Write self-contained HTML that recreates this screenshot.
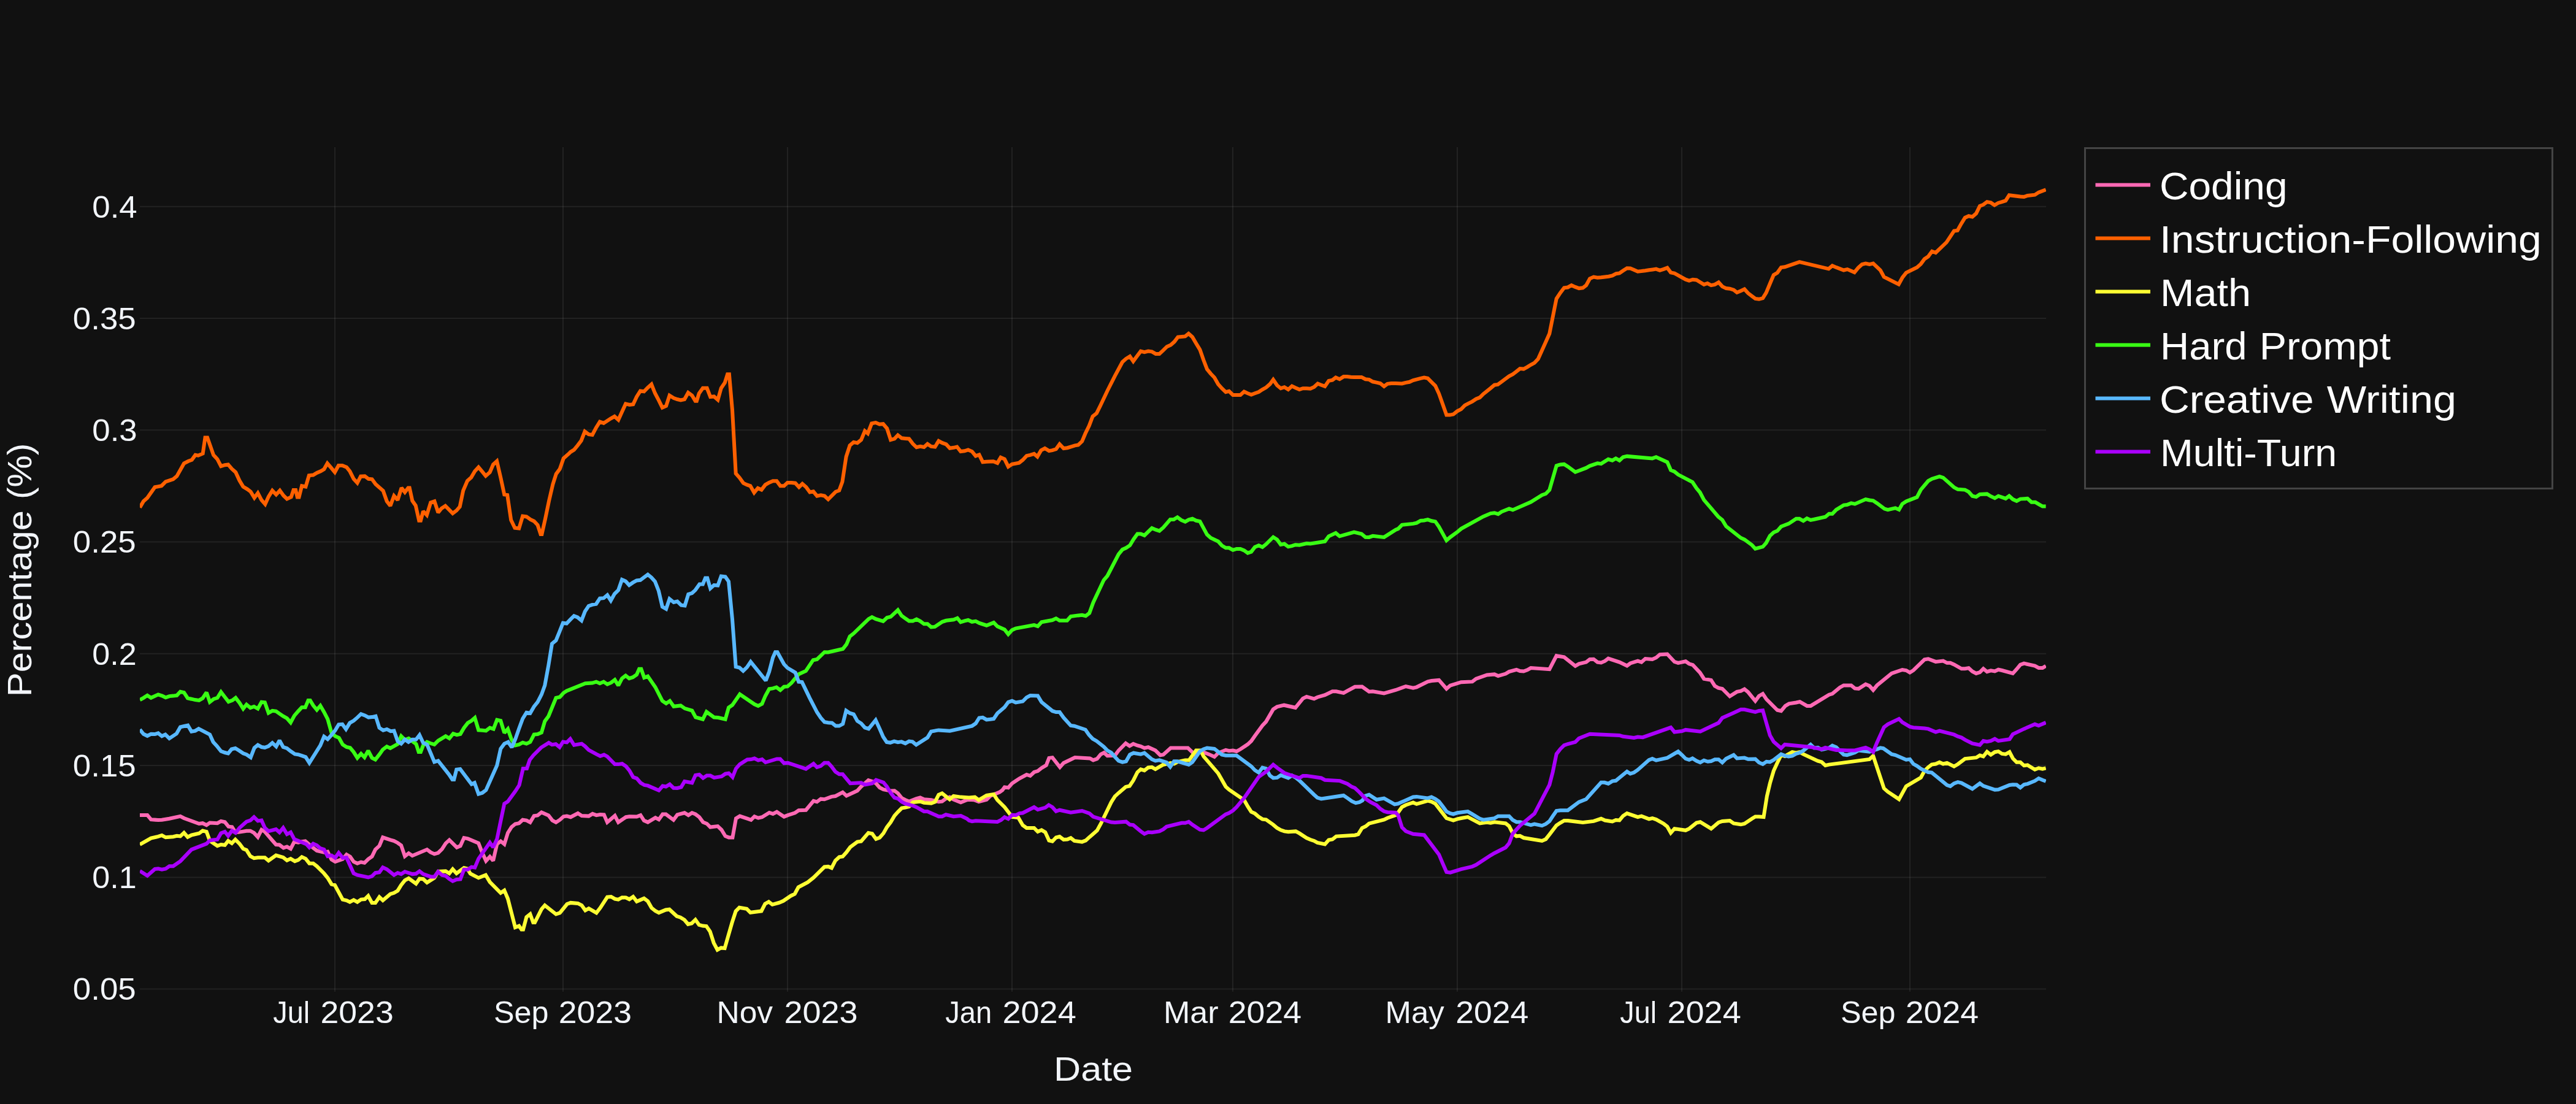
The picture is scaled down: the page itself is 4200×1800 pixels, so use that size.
<!DOCTYPE html>
<html><head><meta charset="utf-8"><title>Category share over time</title>
<style>
html,body{margin:0;padding:0;background:#111111;}
body{width:4200px;height:1800px;overflow:hidden;position:relative;font-family:"Liberation Sans",sans-serif;}
</style></head><body>
<svg width="4200" height="1800" viewBox="0 0 4200 1800" style="position:absolute;left:0;top:0">
<rect x="0" y="0" width="4200" height="1800" fill="#111111"/>
<path d="M546.0,240V1616.7M918.0,240V1616.7M1284.0,240V1616.7M1650.0,240V1616.7M2010.0,240V1616.7M2376.0,240V1616.7M2742.0,240V1616.7M3114.0,240V1616.7" fill="none" stroke="#ffffff" stroke-opacity="0.075" stroke-width="2"/>
<path d="M228,1612.6H3336M228,1430.4H3336M228,1248.1H3336M228,1065.8H3336M228,883.6H3336M228,701.3H3336M228,519.1H3336M228,336.8H3336" fill="none" stroke="#ffffff" stroke-opacity="0.075" stroke-width="2"/>
<clipPath id="c"><rect x="228" y="240" width="3108" height="1376.7"/></clipPath>
<g clip-path="url(#c)" fill="none" stroke-width="6" stroke-linejoin="miter" stroke-miterlimit="2" stroke-linecap="butt">
<path d="M228.0,1328.9L240.2,1328.9L246.2,1336.2L257.9,1337.0L263.9,1336.7L276.1,1334.8L294.0,1330.8L300.0,1334.0L324.5,1343.0L330.4,1342.2L336.7,1345.2L342.1,1341.6L354.4,1342.2L360.3,1338.9L366.6,1340.3L372.6,1347.6L378.3,1348.4L384.2,1357.4L390.5,1356.6L401.9,1354.7L408.2,1354.7L414.1,1357.9L420.4,1364.7L426.4,1353.0L431.8,1356.0L444.0,1370.2L450.0,1377.0L455.7,1377.5L462.2,1382.4L467.9,1380.5L473.9,1383.8L479.9,1372.3L486.2,1373.7L492.1,1372.3L497.8,1371.5L510.6,1382.4L516.6,1387.0L528.3,1389.7L534.2,1388.6L540.5,1401.4L546.5,1404.9L558.7,1400.6L565.0,1393.3L570.9,1396.8L576.6,1404.9L582.6,1407.7L588.6,1405.5L594.3,1406.8L600.3,1400.9L606.5,1396.5L612.0,1385.1L618.5,1379.1L624.2,1365.3L636.4,1369.3L642.4,1371.0L648.4,1374.2L654.1,1378.3L660.1,1396.0L666.3,1391.1L672.3,1395.2L696.2,1385.1L702.2,1389.7L708.2,1392.4L714.4,1390.5L720.7,1384.3L726.6,1375.1L732.6,1369.6L744.8,1381.6L750.6,1379.1L756.5,1366.1L762.8,1367.4L780.2,1374.8L786.4,1390.5L792.4,1403.6L798.7,1396.8L804.1,1403.3L810.3,1376.1L816.3,1371.5L822.3,1376.4L828.0,1357.9L834.0,1348.4L840.0,1343.5L846.2,1342.2L852.2,1336.7L858.4,1337.6L864.4,1340.8L870.7,1330.2L876.6,1329.4L882.9,1324.5L894.3,1329.4L900.6,1337.6L906.5,1340.8L912.8,1336.7L918.8,1331.3L924.2,1330.6L930.4,1332.2L942.2,1326.0L948.4,1330.0L959.9,1330.6L966.1,1326.9L972.4,1329.1L978.6,1328.1L984.8,1328.4L990.1,1340.6L1002.5,1330.0L1008.1,1340.6L1020.5,1332.2L1026.1,1331.2L1038.2,1331.6L1044.4,1329.1L1050.0,1337.8L1056.2,1340.6L1068.6,1333.1L1074.2,1336.2L1080.4,1327.5L1085.7,1327.5L1098.1,1336.8L1104.3,1328.4L1116.1,1325.3L1122.4,1329.1L1128.3,1325.3L1133.9,1327.5L1140.1,1332.2L1146.3,1340.6L1152.5,1343.0L1158.1,1348.6L1170.2,1347.1L1176.4,1353.0L1182.6,1363.2L1188.2,1365.4L1194.4,1365.4L1200.0,1334.3L1206.2,1330.6L1218.3,1334.7L1224.5,1336.8L1230.1,1331.2L1236.3,1333.7L1242.5,1332.2L1254.3,1325.0L1260.2,1326.9L1266.5,1323.8L1278.3,1331.6L1284.5,1329.1L1296.3,1325.3L1302.2,1321.3L1314.0,1320.7L1326.4,1305.8L1332.0,1307.3L1338.2,1302.7L1344.1,1303.3L1355.9,1298.9L1362.1,1298.0L1373.9,1291.8L1380.1,1297.4L1397.8,1289.3L1404.0,1282.5L1415.8,1272.2L1422.0,1274.1L1428.3,1277.2L1434.2,1284.0L1440.4,1287.1L1452.2,1289.6L1458.4,1289.3L1464.0,1293.4L1470.2,1301.1L1476.1,1304.2L1482.3,1306.7L1494.1,1302.0L1500.3,1300.5L1506.5,1303.3L1518.3,1304.2L1530.4,1307.3L1536.0,1306.7L1542.2,1302.0L1548.4,1299.6L1554.7,1303.6L1566.5,1308.3L1576.4,1304.2L1580.0,1303.8L1588.2,1304.3L1595.8,1307.1L1608.5,1303.8L1614.5,1297.8L1629.7,1291.6L1634.3,1288.3L1637.9,1283.4L1643.9,1284.2L1650.1,1277.2L1662.1,1269.3L1673.8,1263.0L1679.7,1264.9L1686.0,1259.0L1692.0,1257.1L1698.2,1252.2L1705.8,1247.6L1710.4,1235.9L1715.9,1235.1L1728.1,1250.8L1734.1,1244.0L1752.6,1235.1L1777.0,1236.4L1782.4,1239.4L1788.7,1237.2L1794.7,1229.9L1800.1,1227.2L1805.5,1232.3L1817.8,1231.8L1823.8,1223.6L1835.4,1212.0L1841.7,1216.3L1847.7,1212.8L1854.5,1215.5L1859.9,1216.8L1865.9,1219.6L1872.1,1218.2L1883.8,1223.6L1891.7,1231.2L1896.6,1230.4L1908.8,1219.6L1936.8,1219.6L1948.2,1230.4L1956.4,1225.8L1960.4,1225.8L1971.3,1229.9L1980.0,1234.0L1986.2,1227.7L1998.5,1222.8L2003.9,1224.2L2010.2,1223.6L2016.1,1225.0L2022.4,1221.5L2034.3,1213.6L2040.1,1208.2L2046.0,1199.7L2058.3,1182.9L2064.2,1176.6L2075.9,1156.5L2082.2,1152.4L2093.6,1149.7L2112.1,1153.8L2124.3,1138.9L2130.3,1135.9L2142.5,1139.4L2147.9,1136.7L2160.2,1133.2L2172.4,1127.2L2178.6,1127.2L2190.6,1129.9L2196.8,1126.4L2209.1,1119.8L2220.8,1119.6L2232.2,1127.7L2238.2,1127.2L2256.6,1130.4L2275.7,1125.0L2292.1,1119.0L2304.0,1121.7L2309.7,1120.3L2327.9,1111.4L2333.9,1110.0L2346.1,1108.9L2358.4,1123.0L2364.6,1117.6L2382.3,1112.2L2400.5,1111.4L2406.7,1106.7L2424.4,1100.5L2436.6,1099.4L2442.6,1102.1L2454.8,1098.6L2460.5,1095.1L2472.5,1091.8L2478.2,1094.0L2484.2,1094.5L2490.2,1092.3L2495.9,1089.1L2526.3,1091.2L2537.7,1069.2L2550.2,1071.4L2568.4,1085.8L2574.4,1082.3L2586.1,1079.6L2592.1,1074.9L2598.3,1074.7L2604.6,1079.6L2610.5,1080.4L2616.8,1077.7L2622.2,1073.6L2640.4,1079.6L2652.7,1085.5L2658.1,1081.5L2670.3,1077.7L2676.3,1079.6L2682.6,1074.1L2694.0,1074.9L2700.2,1072.2L2706.2,1067.3L2718.4,1066.5L2730.1,1079.0L2736.1,1080.9L2748.3,1078.2L2754.0,1082.3L2760.0,1084.2L2771.7,1096.7L2778.2,1106.7L2789.9,1108.9L2795.9,1118.4L2801.6,1121.7L2808.1,1123.0L2820.3,1135.3L2832.0,1127.9L2838.3,1126.6L2844.2,1123.6L2850.2,1128.5L2861.9,1142.9L2867.9,1134.7L2874.1,1131.2L2880.1,1140.2L2897.8,1157.8L2904.0,1159.2L2910.9,1150.9L2916.8,1147.4L2928.5,1145.5L2934.5,1144.1L2946.2,1150.9L2952.2,1150.9L2982.1,1132.7L2987.5,1131.1L2999.7,1121.0L3006.0,1117.5L3018.2,1117.5L3024.2,1122.4L3030.4,1122.9L3041.8,1115.6L3048.1,1118.3L3054.1,1125.1L3060.3,1117.5L3084.2,1097.9L3101.6,1092.0L3107.9,1093.0L3113.9,1096.6L3119.6,1093.0L3137.8,1075.4L3143.8,1074.3L3156.0,1078.9L3168.2,1077.6L3174.5,1080.8L3179.9,1080.8L3185.9,1083.5L3198.1,1090.3L3203.8,1090.3L3209.8,1089.2L3215.8,1094.7L3222.0,1097.9L3228.0,1096.0L3233.7,1090.3L3239.7,1095.2L3245.9,1093.3L3252.4,1094.4L3258.2,1091.7L3264.1,1093.0L3281.8,1097.9L3288.0,1091.1L3294.0,1083.8L3300.0,1081.6L3317.7,1085.7L3323.9,1089.0L3330.2,1089.0L3335.6,1085.7" stroke="#FF69B4"/>
<path d="M228.0,827.5L234.0,817.2L240.2,811.7L252.5,794.3L263.3,792.2L270.1,785.4L282.3,781.3L288.3,776.4L300.0,755.5L306.8,752.0L312.8,749.8L318.5,741.9L323.1,742.7L330.7,739.5L334.5,713.4L338.1,713.4L342.7,726.4L348.1,741.9L354.4,748.7L360.3,760.1L366.6,758.2L372.0,757.4L378.0,764.5L384.2,769.9L390.5,783.5L396.5,793.5L403.3,797.6L408.7,801.7L414.7,811.7L420.4,803.9L426.4,815.3L432.3,822.1L437.8,809.8L444.0,799.8L450.3,806.3L456.3,799.8L462.2,807.9L467.9,813.4L474.7,810.4L478.5,799.0L482.1,799.0L484.8,810.4L487.5,810.4L492.1,792.2L498.4,793.5L503.8,775.3L510.6,774.5L516.6,771.0L522.8,768.3L528.3,765.0L533.7,755.5L540.0,762.8L545.9,769.9L551.9,759.0L558.2,759.0L565.0,761.7L570.4,768.3L576.6,780.8L582.6,787.3L588.1,776.7L594.8,776.4L600.8,780.8L606.5,781.3L612.5,789.5L619.3,795.4L624.7,800.3L630.7,817.2L636.4,824.8L642.4,808.5L648.4,815.3L654.6,795.4L660.1,802.5L665.5,795.4L667.7,795.4L672.3,816.6L677.7,824.2L683.2,848.7L685.9,848.7L690.0,833.5L695.9,839.7L702.2,819.3L708.4,817.2L714.4,835.7L719.8,828.9L726.1,824.8L732.1,830.8L738.1,837.0L744.3,832.4L749.7,826.1L755.2,799.8L762.0,784.0L768.2,778.6L774.2,768.3L780.2,761.7L786.4,769.1L791.9,775.9L798.7,769.9L804.1,757.4L810.1,752.0L816.3,778.6L822.3,806.3L827.2,807.1L833.2,847.9L839.4,860.7L846.2,861.5L852.2,841.6L858.4,842.4L865.2,847.1L870.7,849.8L876.6,856.0L881.5,871.0L883.4,871.0L888.9,846.5L895.1,816.6L901.4,789.5L906.8,772.6L912.8,764.5L918.8,747.3L928.0,739.2L929.9,737.2L935.9,733.4L942.1,725.8L947.8,718.2L953.5,703.5L959.8,708.1L965.8,708.9L972.0,697.2L978.0,687.7L984.2,689.9L995.9,682.3L1001.9,679.0L1008.2,684.5L1014.1,671.4L1020.1,658.4L1026.4,660.0L1032.3,659.2L1038.0,647.0L1044.0,637.4L1050.0,638.3L1056.2,632.0L1062.2,626.6L1067.9,641.0L1073.9,652.4L1079.9,664.6L1086.1,661.9L1091.6,644.8L1098.4,649.1L1104.3,651.0L1109.8,652.4L1116.0,651.0L1122.0,640.2L1128.3,644.8L1133.7,653.8L1135.9,653.8L1139.7,641.5L1145.9,632.8L1152.7,632.8L1158.2,647.0L1164.1,646.4L1170.4,651.8L1175.8,632.8L1181.8,623.9L1186.1,610.3L1188.9,610.3L1194.0,668.7L1199.7,772.0L1205.7,778.8L1212.0,787.7L1217.9,790.4L1223.4,792.3L1229.6,803.2L1235.6,795.9L1241.6,798.6L1247.8,790.4L1253.8,786.9L1260.1,784.2L1266.3,784.2L1272.3,792.3L1278.3,792.3L1284.0,786.9L1290.5,786.9L1296.7,787.7L1302.7,794.2L1308.2,788.8L1314.4,794.2L1320.4,802.4L1326.1,801.3L1332.1,808.6L1338.3,807.3L1344.3,808.6L1350.3,814.1L1356.5,807.8L1362.5,801.8L1368.2,799.7L1373.4,785.5L1379.6,744.8L1385.6,726.3L1391.8,720.9L1397.8,722.2L1404.1,717.1L1410.1,702.7L1414.9,706.7L1421.2,690.4L1427.7,689.1L1434.0,691.8L1439.9,691.2L1446.2,698.6L1452.2,717.1L1458.4,715.4L1463.9,709.5L1470.1,714.3L1476.1,714.9L1482.1,715.4L1488.3,723.6L1494.3,729.3L1500.5,727.9L1506.5,729.0L1512.2,723.9L1518.2,727.9L1524.5,728.5L1530.4,719.0L1536.4,722.2L1542.7,724.4L1548.6,730.7L1554.9,729.8L1560.3,728.5L1566.3,736.1L1572.6,735.3L1578.5,733.4L1584.8,736.1L1590.8,743.4L1596.5,741.5L1602.3,753.3L1608.5,752.7L1619.4,752.2L1626.2,754.9L1631.6,745.9L1637.9,748.6L1643.9,760.9L1650.1,756.8L1661.5,754.6L1667.5,750.0L1673.8,743.2L1679.7,741.8L1686.0,739.9L1691.4,744.6L1697.4,734.2L1703.6,731.0L1710.4,735.1L1715.9,734.2L1721.8,732.3L1727.6,724.2L1734.1,731.0L1740.3,730.2L1746.3,728.3L1752.6,726.4L1758.0,725.5L1764.2,719.6L1769.7,706.5L1775.7,694.3L1781.6,678.8L1787.9,673.9L1793.9,661.7L1805.5,637.2L1817.8,612.8L1830.0,590.2L1836.0,584.8L1842.2,581.0L1847.7,589.1L1853.6,581.0L1859.9,572.6L1865.9,574.2L1872.1,572.6L1878.1,573.4L1884.3,576.9L1890.3,576.9L1896.6,571.2L1902.6,565.2L1908.8,562.5L1914.8,557.1L1920.5,549.5L1926.5,548.9L1932.4,548.4L1937.9,544.0L1944.1,549.5L1950.1,559.8L1956.4,570.1L1962.3,587.0L1968.0,601.9L1974.0,609.2L1980.0,615.5L1986.2,626.4L1992.2,633.2L1998.5,639.1L2003.9,637.8L2010.2,644.0L2016.1,644.0L2022.4,644.0L2028.4,638.6L2034.3,641.3L2040.1,643.5L2046.0,641.3L2052.3,639.1L2058.3,635.1L2064.2,631.8L2070.5,626.4L2075.9,619.0L2082.2,628.3L2088.2,633.2L2094.1,631.2L2100.4,635.1L2106.4,629.6L2112.1,632.3L2118.6,635.1L2124.3,633.2L2130.3,633.2L2136.5,633.7L2142.5,631.0L2148.5,625.5L2154.2,627.7L2160.2,629.9L2166.4,620.9L2172.4,619.6L2177.8,615.5L2184.1,618.2L2190.6,614.1L2196.3,614.1L2202.3,614.7L2208.3,614.9L2214.5,614.9L2219.9,614.9L2226.2,618.2L2232.2,618.8L2238.2,622.3L2244.4,623.6L2250.4,625.0L2256.6,629.9L2262.1,625.8L2268.3,625.0L2275.7,625.0L2285.8,625.5L2292.1,623.9L2298.0,622.8L2304.0,620.1L2316.2,616.8L2322.0,615.5L2327.9,616.8L2333.9,622.8L2340.2,629.1L2346.1,641.8L2352.4,659.5L2358.4,676.6L2363.8,676.6L2369.5,675.5L2376.0,670.4L2382.3,667.1L2388.3,660.9L2394.5,657.6L2400.5,654.6L2406.7,650.5L2412.7,648.1L2418.4,642.4L2430.4,632.9L2436.6,627.7L2442.1,626.9L2448.3,622.3L2454.3,617.9L2460.5,613.3L2466.5,610.1L2472.5,605.7L2478.2,601.1L2484.2,601.6L2490.2,598.4L2495.9,594.8L2501.8,591.6L2507.8,585.3L2514.1,571.2L2520.3,557.6L2526.3,544.0L2531.7,516.8L2537.7,487.0L2544.0,477.4L2550.2,469.3L2556.2,468.5L2562.2,465.2L2568.4,467.9L2574.4,470.1L2580.7,469.3L2586.1,465.2L2592.1,454.3L2598.3,451.6L2604.6,452.7L2610.5,452.2L2616.8,451.4L2622.8,450.8L2628.8,449.5L2635.0,446.2L2640.4,445.4L2646.4,441.3L2652.7,437.2L2658.1,437.5L2664.1,439.9L2670.3,442.7L2676.3,442.1L2682.6,441.3L2688.5,440.2L2694.8,439.4L2700.2,438.6L2706.2,440.8L2712.4,438.9L2718.4,436.7L2724.1,444.3L2730.1,445.7L2736.1,448.9L2742.3,452.4L2748.3,455.7L2754.0,457.6L2760.0,455.7L2766.0,456.5L2772.2,460.3L2778.2,463.9L2783.9,462.0L2789.9,465.2L2795.9,463.9L2802.1,460.3L2808.1,467.1L2814.3,470.1L2820.3,470.7L2826.6,472.6L2832.0,476.9L2838.3,474.2L2844.2,471.5L2850.2,478.0L2856.5,482.9L2861.9,487.0L2867.9,487.8L2874.1,486.1L2879.6,477.4L2885.8,462.5L2891.8,448.4L2897.8,444.8L2904.0,436.1L2910.0,435.3L2922.2,431.2L2933.9,427.2L2981.5,438.3L2987.5,433.2L2993.8,435.9L3006.0,440.5L3012.0,439.1L3023.6,444.0L3029.9,436.4L3035.9,431.0L3041.8,429.6L3048.1,431.0L3054.1,429.6L3065.8,440.5L3071.7,451.4L3095.7,463.6L3101.6,452.7L3107.9,444.6L3125.5,435.9L3131.8,430.4L3137.8,422.3L3143.8,418.2L3150.0,409.8L3156.0,412.0L3173.6,395.1L3179.9,385.6L3185.9,376.6L3191.6,375.8L3197.6,364.9L3203.8,354.9L3209.8,352.2L3215.8,353.5L3222.0,348.1L3228.0,335.9L3233.7,333.7L3239.7,329.1L3245.9,330.4L3251.9,334.5L3257.9,331.0L3264.1,329.1L3270.1,327.2L3275.8,318.2L3281.8,319.0L3294.0,320.4L3300.0,320.9L3305.7,319.0L3317.7,317.7L3323.9,313.6L3335.6,309.2" stroke="#FF6000"/>
<path d="M228.0,1377.0L246.2,1366.6L257.9,1363.9L263.9,1362.0L270.1,1365.3L282.3,1364.2L288.3,1362.8L294.0,1363.4L300.0,1357.9L306.0,1364.7L312.2,1361.5L324.5,1358.8L330.4,1354.4L336.7,1356.0L342.1,1370.7L354.4,1379.1L360.3,1377.0L366.6,1377.8L372.0,1371.0L378.0,1374.8L383.7,1368.8L390.5,1375.6L396.5,1383.8L401.9,1385.9L408.2,1396.0L414.1,1399.2L420.4,1398.2L431.8,1398.2L437.8,1403.3L450.0,1394.6L461.7,1397.9L467.9,1402.8L473.9,1400.1L480.7,1404.1L486.2,1402.2L492.1,1397.3L498.4,1400.1L504.4,1407.7L510.6,1407.7L516.6,1412.3L528.3,1424.0L534.2,1431.3L540.5,1441.6L545.9,1443.0L558.7,1466.6L565.0,1468.0L570.4,1470.7L576.6,1467.4L582.6,1470.7L588.6,1466.6L594.8,1466.1L600.3,1460.7L606.5,1472.1L612.0,1472.1L618.5,1462.6L624.2,1468.0L636.4,1457.7L642.4,1455.8L648.4,1452.2L654.1,1443.0L660.1,1435.4L666.3,1432.1L678.3,1440.8L684.0,1432.7L690.0,1433.2L696.2,1438.9L708.2,1431.3L714.4,1421.0L726.6,1420.4L732.6,1424.0L738.1,1417.2L744.3,1424.0L756.5,1415.0L762.0,1416.4L766.9,1424.5L780.2,1431.3L791.9,1426.7L798.7,1438.1L816.3,1455.8L822.3,1451.7L828.0,1465.3L840.0,1512.0L846.2,1509.6L850.3,1515.5L853.0,1515.5L858.4,1495.2L864.4,1490.5L869.3,1504.1L872.0,1504.1L882.9,1482.4L888.3,1476.1L906.5,1490.5L912.8,1488.4L924.5,1474.0L930.4,1471.9L942.2,1472.9L948.4,1476.0L954.3,1484.3L959.9,1481.2L972.4,1488.4L978.6,1480.3L990.1,1462.6L996.3,1462.0L1002.5,1465.7L1008.1,1466.6L1014.3,1463.2L1020.5,1463.5L1026.1,1466.3L1032.3,1462.0L1038.2,1469.8L1050.0,1464.8L1056.2,1469.4L1062.4,1480.3L1068.6,1485.3L1074.2,1488.1L1085.4,1483.5L1091.4,1482.7L1103.4,1493.8L1109.3,1495.7L1115.9,1499.8L1121.8,1506.8L1127.8,1505.4L1133.8,1499.6L1139.8,1507.9L1145.8,1509.6L1151.7,1510.1L1157.7,1518.8L1163.7,1537.3L1169.7,1548.7L1175.7,1545.4L1181.6,1546.0L1193.6,1504.1L1199.6,1485.7L1205.5,1479.7L1217.5,1481.8L1223.5,1487.8L1241.4,1485.4L1247.4,1473.7L1253.4,1470.4L1259.3,1474.8L1271.3,1471.5L1277.3,1468.8L1289.2,1460.7L1295.8,1457.4L1301.7,1446.5L1317.0,1438.4L1326.4,1430.9L1344.1,1413.5L1350.3,1412.9L1355.9,1415.1L1362.1,1403.0L1368.3,1397.4L1373.9,1396.5L1380.1,1389.6L1386.3,1381.2L1397.8,1372.5L1404.0,1371.6L1415.8,1358.0L1422.0,1359.2L1428.3,1367.9L1434.2,1365.7L1440.4,1358.6L1446.0,1348.6L1452.2,1340.6L1458.4,1330.0L1464.0,1323.8L1470.2,1317.6L1476.1,1316.6L1482.3,1315.1L1488.5,1308.0L1500.3,1306.7L1506.5,1308.9L1518.3,1309.8L1524.5,1307.3L1530.4,1295.8L1536.0,1293.4L1548.4,1303.3L1554.7,1298.0L1566.5,1299.6L1576.4,1300.2L1580.0,1300.5L1589.5,1299.7L1595.8,1304.3L1602.3,1300.5L1608.5,1297.0L1620.2,1295.1L1626.2,1304.3L1637.9,1316.0L1650.1,1331.8L1660.2,1332.9L1667.5,1345.4L1673.8,1350.0L1686.0,1350.0L1692.0,1356.0L1698.2,1353.3L1704.2,1356.8L1710.4,1370.4L1715.9,1371.7L1721.8,1365.5L1727.6,1364.1L1734.1,1369.0L1740.3,1368.5L1745.8,1366.3L1751.7,1370.9L1764.2,1372.6L1770.2,1370.4L1776.2,1364.9L1788.7,1354.1L1794.7,1343.2L1811.8,1307.9L1817.8,1298.4L1823.8,1292.9L1835.4,1282.9L1841.7,1281.5L1847.7,1272.6L1854.5,1259.0L1859.9,1254.3L1865.9,1256.2L1872.1,1251.4L1878.1,1250.8L1883.8,1254.1L1896.6,1246.7L1908.8,1244.0L1914.2,1245.4L1920.5,1242.1L1932.4,1239.4L1938.7,1239.4L1950.1,1223.6L1957.7,1223.6L1962.3,1233.2L1986.2,1260.9L1998.5,1282.6L2003.9,1287.5L2028.4,1304.3L2034.3,1314.7L2040.1,1323.6L2046.0,1326.4L2052.3,1331.8L2058.3,1335.6L2064.2,1336.4L2075.9,1344.6L2082.2,1350.0L2088.2,1353.3L2094.1,1355.4L2100.4,1356.2L2112.6,1355.4L2118.6,1358.7L2130.3,1366.3L2136.5,1369.0L2142.5,1370.9L2147.9,1373.9L2160.2,1376.4L2166.4,1369.6L2172.4,1368.5L2178.6,1363.6L2209.1,1361.7L2214.5,1360.1L2220.8,1350.0L2226.7,1347.3L2232.2,1342.7L2256.6,1336.4L2262.1,1333.7L2275.7,1328.8L2279.6,1324.7L2285.8,1315.8L2292.1,1312.5L2304.0,1308.4L2309.7,1310.9L2327.9,1305.7L2333.9,1307.1L2340.2,1310.3L2358.4,1334.0L2369.5,1337.5L2376.0,1335.3L2382.3,1334.0L2393.2,1332.1L2412.7,1342.4L2418.4,1341.6L2424.4,1340.8L2430.4,1341.6L2436.6,1340.2L2454.8,1342.4L2460.5,1347.0L2466.5,1358.7L2472.5,1363.3L2478.2,1362.8L2484.2,1366.0L2514.1,1370.9L2520.3,1368.2L2526.3,1360.6L2537.7,1345.7L2544.0,1341.6L2550.2,1338.0L2556.2,1338.0L2580.7,1341.0L2598.3,1338.9L2610.5,1334.8L2616.8,1337.5L2628.8,1339.4L2634.5,1337.0L2640.4,1337.5L2646.4,1330.2L2652.7,1326.1L2670.3,1332.1L2676.3,1330.7L2688.5,1335.3L2694.0,1334.0L2700.2,1336.1L2712.4,1342.9L2718.4,1347.8L2724.1,1357.9L2730.1,1351.1L2748.3,1353.8L2754.0,1351.1L2766.0,1341.6L2772.2,1340.2L2789.9,1351.1L2802.1,1341.0L2808.1,1338.9L2820.3,1338.0L2826.6,1342.4L2838.3,1344.3L2844.2,1342.9L2856.5,1334.8L2861.9,1331.5L2867.9,1331.5L2875.5,1332.1L2880.9,1298.1L2885.8,1277.2L2891.8,1256.8L2897.8,1243.8L2904.0,1231.0L2910.0,1232.9L2922.2,1226.1L2928.5,1227.4L2933.9,1226.1L2940.2,1229.6L2963.9,1240.6L2970.1,1242.5L2976.1,1247.9L2982.1,1246.6L3048.1,1237.9L3054.1,1232.4L3071.7,1285.4L3078.0,1290.9L3096.2,1303.1L3107.9,1281.9L3131.8,1267.8L3137.8,1256.9L3143.8,1250.9L3149.5,1246.6L3156.0,1245.5L3162.2,1242.8L3168.2,1245.5L3174.5,1243.9L3185.9,1249.6L3192.1,1246.0L3203.8,1237.1L3222.0,1235.2L3228.0,1231.6L3233.7,1233.3L3239.7,1225.7L3245.9,1230.5L3252.4,1226.2L3258.2,1225.1L3264.1,1228.9L3270.1,1229.7L3276.4,1226.2L3281.8,1236.5L3288.0,1242.8L3294.0,1242.8L3300.0,1248.2L3305.7,1247.4L3317.7,1254.7L3323.9,1252.3L3330.2,1253.6L3335.6,1252.3" stroke="#FFFF33"/>
<path d="M228.0,1141.1L234.0,1137.8L240.2,1133.8L246.2,1137.8L257.9,1132.4L263.9,1134.3L270.1,1137.3L276.1,1135.1L282.3,1134.6L288.3,1133.8L294.0,1127.8L300.0,1129.1L306.0,1138.4L312.2,1139.7L318.2,1141.1L324.5,1141.9L330.4,1138.4L336.7,1128.9L342.1,1144.6L348.4,1139.7L354.4,1137.8L360.3,1128.3L366.6,1136.5L372.6,1144.1L378.8,1141.9L384.2,1137.8L390.5,1146.0L396.5,1155.5L401.9,1148.7L408.2,1154.1L414.1,1152.0L420.4,1155.5L426.4,1144.6L431.8,1145.2L437.8,1162.3L444.0,1158.8L450.0,1159.6L455.7,1163.6L461.7,1167.7L467.9,1171.2L473.9,1178.0L479.9,1166.9L486.2,1159.6L492.1,1153.3L497.8,1153.3L502.5,1141.9L505.7,1141.9L510.6,1150.1L516.6,1157.4L522.3,1150.6L528.3,1160.9L534.2,1172.3L540.5,1194.9L546.5,1200.3L552.7,1203.0L558.7,1213.9L565.0,1218.0L570.9,1219.3L576.6,1226.1L582.6,1235.7L588.6,1228.9L594.3,1234.8L600.3,1224.0L606.5,1235.7L612.0,1238.4L618.5,1230.2L624.2,1222.1L630.7,1217.2L636.4,1219.9L648.4,1213.1L654.1,1200.3L660.1,1206.3L666.3,1203.9L672.3,1208.5L678.5,1213.1L682.6,1226.1L685.9,1226.1L690.0,1215.3L696.2,1209.8L702.2,1212.0L708.2,1213.9L714.4,1207.7L720.7,1203.9L726.6,1200.3L732.6,1203.9L738.9,1196.2L744.8,1198.2L750.6,1196.8L756.5,1186.7L762.8,1178.6L768.8,1175.1L774.2,1170.4L780.2,1190.3L786.4,1190.8L792.4,1191.4L798.7,1186.7L804.6,1188.6L810.3,1173.7L816.3,1175.1L822.3,1194.9L828.0,1188.6L834.0,1205.8L840.0,1215.3L846.2,1213.9L852.2,1210.7L858.4,1212.6L864.4,1209.8L870.7,1197.6L876.6,1197.1L882.9,1194.3L888.3,1175.9L894.3,1167.7L906.5,1137.8L912.8,1136.5L918.8,1129.7L923.9,1126.5L954.3,1114.3L965.8,1113.5L972.0,1111.6L978.0,1114.3L984.2,1111.6L990.2,1115.7L996.5,1112.9L1002.4,1108.3L1008.2,1117.6L1014.1,1106.1L1020.1,1101.5L1025.8,1106.1L1031.8,1104.2L1038.0,1099.9L1042.1,1090.7L1045.4,1090.7L1050.3,1104.8L1056.2,1102.6L1068.5,1120.5L1079.9,1142.8L1086.1,1146.9L1092.1,1142.8L1098.4,1151.8L1109.8,1150.4L1116.6,1155.1L1128.3,1158.6L1134.2,1169.5L1145.9,1172.7L1151.9,1160.5L1164.1,1169.5L1170.9,1170.0L1182.6,1172.7L1188.0,1153.7L1194.0,1149.6L1206.2,1132.0L1230.2,1148.3L1236.1,1151.0L1242.4,1147.7L1247.8,1134.7L1254.1,1123.3L1260.1,1122.4L1266.0,1120.5L1272.3,1125.2L1278.3,1119.7L1284.0,1119.2L1290.5,1113.5L1302.2,1099.3L1313.9,1093.9L1325.8,1076.2L1332.1,1074.9L1344.3,1063.2L1350.3,1063.5L1374.2,1058.0L1380.2,1050.4L1385.6,1037.7L1391.8,1032.8L1416.3,1009.1L1421.7,1006.1L1427.7,1009.1L1439.9,1012.9L1446.2,1007.0L1452.2,1005.6L1463.9,994.7L1469.8,1003.7L1476.1,1008.3L1482.1,1012.4L1488.3,1012.4L1494.3,1009.7L1500.5,1012.9L1506.5,1017.3L1512.2,1017.3L1518.2,1022.4L1524.2,1021.9L1536.4,1013.8L1542.7,1011.8L1554.9,1010.2L1560.9,1007.8L1566.3,1014.3L1572.6,1012.4L1578.5,1011.0L1584.8,1013.8L1590.8,1012.9L1596.8,1015.9L1608.5,1019.7L1620.2,1015.1L1626.2,1021.3L1637.9,1026.5L1643.9,1034.1L1650.1,1027.3L1656.1,1024.6L1686.0,1019.1L1692.0,1021.0L1698.2,1014.2L1715.9,1011.0L1721.8,1008.3L1727.6,1011.8L1739.8,1011.8L1745.8,1005.0L1758.0,1003.4L1764.2,1002.8L1770.2,1004.2L1776.2,999.6L1782.4,982.4L1799.6,945.8L1805.5,939.0L1823.8,903.6L1830.0,896.0L1836.0,893.3L1842.2,889.2L1848.2,879.2L1854.5,870.5L1859.9,870.5L1865.9,872.9L1878.1,861.0L1884.3,863.7L1890.3,865.6L1896.6,860.2L1908.0,847.1L1913.7,847.1L1919.7,843.3L1925.9,847.9L1932.4,850.7L1938.2,847.4L1944.1,845.8L1950.1,848.8L1956.4,850.1L1968.0,871.6L1974.0,877.0L1986.2,882.7L1992.2,889.5L1998.5,893.3L2003.9,893.3L2010.2,896.8L2016.1,894.9L2022.4,894.9L2028.4,897.4L2034.3,901.7L2040.1,899.6L2046.0,892.0L2052.3,889.2L2058.3,892.0L2064.2,887.3L2075.9,875.7L2082.2,879.7L2088.2,887.9L2094.1,886.8L2100.4,891.4L2106.4,890.1L2112.1,888.2L2118.6,888.7L2130.3,886.0L2136.5,886.5L2160.2,882.7L2166.4,874.3L2177.8,869.1L2184.1,874.3L2207.7,867.5L2219.9,870.5L2226.2,875.7L2232.2,875.9L2238.2,873.8L2256.6,875.9L2275.7,863.7L2279.6,862.1L2285.8,855.8L2304.0,853.9L2309.7,852.6L2316.2,849.0L2322.0,848.5L2327.9,847.1L2333.9,849.3L2340.2,850.4L2346.1,858.8L2358.4,881.1L2364.6,875.7L2376.0,867.5L2382.3,862.1L2418.4,842.2L2430.4,837.1L2436.6,836.2L2442.6,838.2L2448.3,834.3L2460.5,829.5L2466.5,831.4L2495.9,818.6L2514.1,807.2L2520.3,805.0L2526.3,798.8L2537.7,759.3L2544.0,757.4L2550.2,756.9L2556.2,760.7L2568.4,769.7L2586.1,762.9L2592.1,759.6L2604.6,755.3L2610.5,756.1L2622.2,748.8L2628.8,750.7L2634.5,747.4L2640.4,750.7L2646.4,745.2L2652.7,743.9L2694.0,747.4L2700.2,745.2L2712.4,750.7L2718.4,753.4L2724.1,766.4L2730.1,768.9L2736.1,773.8L2759.5,786.0L2766.0,796.0L2771.7,802.8L2778.2,815.1L2801.6,842.5L2808.1,847.7L2814.3,858.0L2838.3,877.0L2844.2,879.7L2856.5,888.7L2861.9,894.7L2874.1,891.4L2879.6,885.2L2885.8,873.5L2891.8,868.0L2897.8,865.6L2904.0,858.5L2916.2,853.9L2928.5,845.8L2933.9,845.8L2940.2,849.3L2946.1,845.2L2952.1,847.9L2957.9,846.7L2976.1,842.7L2982.1,837.8L2987.5,837.8L2993.8,831.2L3006.0,823.6L3011.4,823.1L3018.2,820.4L3024.2,821.7L3041.8,814.1L3048.1,815.5L3054.1,816.3L3060.3,820.4L3072.6,829.6L3078.0,831.2L3090.2,828.3L3096.2,831.0L3101.6,821.5L3107.9,817.4L3125.5,810.6L3131.8,798.4L3143.8,784.2L3150.0,780.7L3162.2,776.9L3168.2,778.8L3185.9,794.6L3192.1,797.8L3203.8,798.6L3209.8,801.9L3215.8,808.7L3222.0,810.1L3228.0,806.0L3239.7,805.4L3245.9,809.2L3252.4,812.2L3258.2,808.7L3270.1,812.8L3275.8,808.7L3281.8,814.1L3288.0,816.8L3294.0,813.6L3305.7,812.8L3312.2,818.8L3318.5,818.8L3324.5,822.3L3330.2,825.5L3335.6,825.5" stroke="#39FF14"/>
<path d="M228.0,1189.5L234.0,1196.8L240.2,1199.8L246.2,1196.8L252.5,1197.1L257.9,1195.4L263.9,1200.3L269.6,1197.6L276.1,1203.9L287.8,1196.2L294.0,1185.4L300.0,1184.0L306.3,1182.7L312.2,1192.7L318.2,1191.6L323.9,1188.1L342.1,1197.6L347.6,1209.8L353.5,1216.1L360.3,1224.8L366.6,1227.0L372.0,1228.3L377.5,1221.5L383.7,1219.9L390.2,1224.0L396.5,1228.3L401.9,1230.2L408.7,1234.8L414.7,1219.3L420.4,1214.7L426.4,1218.0L431.8,1218.8L437.8,1216.6L444.0,1211.2L450.3,1217.2L455.7,1207.1L461.7,1218.0L467.7,1219.9L473.9,1224.8L480.7,1229.4L486.2,1230.2L492.1,1232.1L498.4,1234.3L504.4,1243.8L522.3,1215.3L528.3,1200.9L534.2,1205.2L540.5,1198.2L546.5,1190.8L552.2,1181.3L558.2,1180.8L564.1,1188.9L570.4,1178.6L576.6,1175.1L582.6,1169.9L588.6,1164.2L594.8,1166.4L600.8,1169.6L606.5,1169.1L612.5,1167.7L618.5,1186.7L624.7,1190.8L630.7,1188.9L637.0,1192.2L642.4,1191.6L648.4,1208.5L654.1,1212.6L660.1,1205.8L666.0,1209.8L672.3,1205.8L678.3,1205.8L684.0,1198.4L690.0,1211.2L696.2,1213.9L702.2,1228.0L708.2,1242.4L714.4,1240.5L732.1,1262.8L737.5,1271.0L740.2,1271.0L744.3,1254.7L750.3,1253.9L768.8,1278.6L773.7,1276.4L780.2,1294.6L786.4,1292.7L792.4,1288.1L810.3,1247.9L816.3,1220.7L822.3,1212.6L828.5,1209.8L834.5,1218.5L840.2,1205.2L846.2,1188.1L852.2,1171.8L858.4,1161.7L864.4,1162.8L870.7,1152.0L876.6,1144.6L882.9,1132.4L888.3,1117.4L894.3,1084.8L900.0,1049.5L906.5,1044.1L912.2,1030.1L917.9,1015.7L923.9,1016.5L929.9,1010.2L935.9,1004.2L941.6,1006.4L948.1,1011.8L953.8,996.9L959.8,987.9L965.8,985.8L972.0,984.7L978.0,975.7L984.2,975.2L990.2,970.3L995.9,979.2L1001.9,968.4L1008.2,962.1L1014.1,945.0L1020.1,947.7L1025.8,954.0L1031.8,949.9L1038.0,946.4L1044.0,945.8L1050.3,941.2L1056.2,936.8L1062.2,941.7L1067.9,948.0L1073.9,963.5L1079.9,989.3L1086.1,992.8L1091.6,976.5L1098.4,982.0L1104.3,980.6L1110.6,986.6L1116.6,987.4L1122.3,968.9L1128.3,967.0L1133.7,962.1L1140.5,952.6L1145.9,952.6L1150.0,942.6L1153.3,942.6L1158.2,959.4L1164.1,954.0L1170.4,954.5L1175.8,939.6L1182.6,940.4L1188.0,948.0L1194.0,1009.7L1199.7,1087.1L1205.7,1088.5L1211.7,1093.9L1217.9,1087.9L1223.9,1079.0L1248.6,1109.7L1254.1,1095.3L1260.1,1072.2L1264.1,1063.2L1267.4,1063.2L1278.3,1083.0L1284.0,1089.0L1296.7,1096.6L1302.2,1111.6L1307.6,1112.1L1319.8,1137.4L1332.1,1161.3L1338.3,1170.5L1344.3,1177.3L1350.3,1178.2L1356.5,1178.7L1362.5,1183.6L1368.2,1183.6L1374.2,1180.3L1379.6,1158.6L1385.6,1162.7L1391.8,1164.6L1397.8,1175.4L1404.1,1179.5L1410.1,1186.3L1416.3,1188.2L1427.7,1174.1L1434.0,1187.7L1439.9,1201.2L1445.7,1209.9L1451.6,1210.8L1457.9,1208.6L1463.9,1210.2L1469.8,1209.4L1476.1,1212.1L1482.1,1208.6L1487.8,1209.4L1493.8,1214.3L1512.2,1202.6L1518.2,1192.6L1530.4,1190.4L1548.6,1191.7L1584.8,1183.6L1590.8,1179.5L1596.5,1170.5L1602.3,1169.8L1608.5,1173.4L1614.5,1172.8L1620.2,1172.0L1626.2,1163.0L1637.9,1153.0L1643.9,1144.8L1650.1,1142.7L1656.1,1145.4L1667.5,1143.5L1673.8,1137.2L1679.7,1134.0L1692.0,1134.5L1698.2,1144.8L1715.9,1159.2L1721.8,1161.1L1727.6,1161.1L1734.1,1170.1L1745.8,1182.9L1751.7,1183.7L1769.7,1189.7L1775.7,1198.4L1781.6,1204.6L1787.9,1208.2L1799.6,1217.4L1805.5,1223.6L1811.8,1227.2L1817.8,1234.0L1823.8,1240.5L1830.0,1242.7L1836.0,1241.3L1842.2,1230.4L1848.2,1227.7L1859.9,1229.6L1865.9,1227.7L1878.1,1238.0L1883.8,1240.5L1890.3,1239.4L1902.0,1243.2L1908.0,1250.3L1914.2,1241.3L1919.7,1241.3L1938.2,1246.7L1944.1,1242.7L1956.4,1225.0L1962.3,1221.5L1968.0,1219.6L1980.0,1220.9L1992.2,1230.4L1998.5,1231.8L2016.1,1231.8L2040.1,1249.5L2046.0,1255.7L2052.3,1259.8L2058.3,1251.6L2064.2,1253.0L2070.5,1264.4L2075.9,1268.5L2082.2,1267.9L2088.2,1263.9L2100.4,1268.5L2106.4,1264.4L2112.6,1267.9L2118.6,1272.6L2142.5,1295.7L2147.9,1300.5L2154.2,1302.4L2190.6,1297.0L2196.8,1301.1L2204.2,1306.5L2210.4,1309.2L2216.4,1307.9L2221.3,1305.2L2226.2,1297.6L2232.2,1295.7L2244.4,1303.8L2256.6,1301.6L2273.8,1311.4L2279.6,1310.3L2304.0,1299.5L2309.7,1298.9L2327.9,1301.4L2333.9,1299.5L2340.2,1302.7L2346.1,1306.8L2352.4,1314.9L2358.4,1323.1L2364.6,1326.1L2369.5,1327.4L2376.0,1325.3L2393.2,1323.1L2400.5,1327.4L2412.7,1334.8L2418.4,1336.7L2436.6,1334.2L2442.6,1330.7L2460.5,1330.7L2466.5,1337.0L2472.5,1340.2L2478.2,1340.2L2495.9,1345.1L2501.8,1343.5L2514.1,1346.2L2520.3,1343.5L2526.3,1338.9L2531.7,1330.7L2537.7,1322.0L2544.0,1321.2L2556.2,1321.2L2574.4,1307.6L2586.1,1303.0L2592.1,1296.2L2610.5,1275.8L2616.0,1275.8L2622.2,1277.7L2628.8,1273.6L2634.5,1272.8L2652.7,1257.9L2658.1,1261.4L2664.1,1259.5L2670.3,1255.2L2688.5,1239.1L2694.0,1237.0L2700.2,1239.7L2718.4,1235.6L2736.1,1225.3L2742.3,1231.0L2748.3,1237.0L2754.0,1238.9L2759.5,1236.4L2766.0,1240.5L2772.2,1243.2L2778.2,1239.7L2784.5,1241.8L2789.9,1241.0L2795.9,1238.3L2802.1,1238.3L2808.1,1243.2L2814.3,1237.0L2826.6,1231.0L2832.0,1236.4L2844.2,1235.6L2850.2,1237.8L2861.9,1237.5L2867.9,1243.2L2874.1,1245.9L2880.1,1241.8L2885.8,1242.4L2891.8,1239.1L2904.0,1229.6L2910.0,1232.1L2916.2,1233.4L2922.2,1232.3L2928.5,1228.8L2933.9,1227.4L2940.2,1223.9L2952.1,1213.9L2957.9,1219.4L2963.9,1218.9L2970.1,1222.4L2982.1,1219.4L2987.5,1215.6L2993.8,1218.3L2999.7,1224.3L3006.0,1230.5L3011.4,1231.1L3024.2,1227.0L3030.4,1223.5L3048.1,1225.7L3054.1,1223.5L3060.3,1221.6L3065.8,1219.4L3070.7,1220.2L3084.2,1229.7L3090.2,1231.1L3107.9,1238.7L3113.9,1237.9L3119.6,1245.5L3125.5,1248.8L3131.8,1253.4L3143.8,1259.1L3149.5,1259.6L3174.5,1280.0L3179.9,1281.9L3185.9,1277.3L3192.1,1275.1L3198.1,1276.5L3215.8,1286.2L3228.0,1277.3L3233.7,1281.4L3252.4,1287.6L3258.2,1287.3L3276.4,1280.0L3281.8,1279.2L3288.0,1279.5L3294.0,1284.1L3300.0,1279.2L3305.7,1278.1L3317.7,1273.2L3323.9,1269.1L3330.2,1271.8L3335.6,1273.8" stroke="#58B8FF"/>
<path d="M228.0,1419.9L240.2,1427.8L252.5,1416.9L257.9,1416.4L263.9,1417.7L270.1,1416.4L276.1,1412.3L282.3,1412.3L294.0,1404.1L312.2,1385.1L336.7,1375.6L342.1,1370.2L354.4,1368.8L360.3,1358.5L366.6,1356.0L372.0,1362.8L378.0,1354.4L384.2,1357.9L390.5,1349.8L401.9,1339.7L408.2,1337.6L414.1,1332.1L420.4,1338.4L426.4,1337.6L431.8,1349.8L437.8,1355.2L450.0,1352.0L455.7,1357.1L461.7,1349.8L467.9,1360.1L473.9,1357.1L479.9,1368.3L486.2,1370.7L499.7,1376.4L504.4,1381.6L510.6,1375.6L516.6,1378.3L522.3,1383.2L528.3,1385.1L534.2,1396.0L540.5,1394.6L546.5,1398.7L552.2,1390.5L558.7,1398.7L565.0,1398.2L576.6,1424.0L582.6,1426.7L600.3,1430.5L606.5,1428.6L612.0,1423.2L618.5,1422.3L624.2,1414.2L630.7,1417.2L642.4,1426.7L648.4,1423.2L654.1,1425.1L660.1,1421.2L672.3,1425.1L678.3,1424.5L684.0,1420.4L690.0,1425.1L702.2,1429.4L708.2,1429.4L714.4,1421.2L720.7,1426.7L726.6,1428.0L732.6,1433.2L738.1,1436.7L744.3,1434.0L750.6,1433.5L756.5,1417.7L762.8,1417.7L768.8,1413.6L774.2,1414.5L780.2,1400.1L798.7,1373.7L804.1,1381.6L810.3,1368.0L816.3,1338.9L822.3,1310.4L828.0,1306.8L840.2,1290.0L846.6,1280.0L852.8,1253.0L859.0,1253.0L863.7,1239.0L869.9,1231.2L882.3,1218.8L894.7,1211.1L900.0,1214.2L906.2,1213.2L912.4,1218.2L918.0,1209.5L924.2,1210.4L929.8,1204.8L936.0,1214.8L948.4,1212.6L953.7,1216.6L959.9,1222.9L972.4,1229.7L978.6,1232.8L984.8,1230.6L990.1,1233.4L1002.5,1246.1L1008.1,1246.1L1014.3,1245.2L1020.5,1249.3L1026.1,1256.1L1032.3,1267.0L1038.2,1269.1L1044.4,1276.3L1050.6,1280.0L1056.2,1280.9L1074.2,1288.7L1080.4,1281.6L1085.7,1282.5L1091.9,1278.8L1098.1,1284.7L1104.3,1285.0L1110.6,1283.4L1116.1,1274.1L1128.3,1276.3L1133.9,1263.9L1140.1,1262.9L1146.3,1268.5L1152.5,1264.5L1158.1,1264.5L1164.3,1267.9L1176.4,1266.0L1182.6,1261.7L1188.2,1260.7L1194.4,1267.0L1200.0,1253.0L1206.2,1246.1L1218.3,1238.4L1224.5,1238.1L1230.1,1236.5L1236.3,1239.6L1242.5,1238.1L1248.1,1243.0L1266.5,1237.5L1272.0,1237.5L1278.3,1244.3L1284.5,1243.7L1314.0,1253.6L1326.4,1245.2L1332.0,1250.8L1338.2,1248.9L1344.1,1243.7L1350.3,1243.7L1355.9,1249.9L1362.1,1258.3L1368.3,1262.3L1373.9,1262.3L1386.3,1277.2L1404.0,1276.3L1410.2,1279.4L1422.0,1277.2L1428.3,1271.6L1440.4,1275.7L1446.0,1282.5L1452.2,1292.7L1458.4,1300.5L1464.0,1302.0L1470.2,1307.3L1476.1,1310.4L1488.5,1313.5L1494.1,1316.0L1506.5,1322.9L1512.1,1322.9L1530.4,1331.2L1536.0,1331.2L1542.2,1328.1L1554.7,1331.2L1566.5,1330.0L1576.4,1334.7L1580.0,1337.8L1584.9,1339.1L1590.9,1338.3L1626.2,1339.9L1632.2,1337.0L1637.9,1332.3L1643.9,1335.1L1650.1,1328.8L1656.1,1329.1L1662.1,1326.1L1667.5,1325.5L1686.0,1316.0L1692.0,1320.1L1704.2,1316.8L1709.9,1312.5L1715.9,1316.0L1721.8,1322.8L1727.6,1320.7L1745.8,1324.7L1764.2,1322.0L1776.2,1326.1L1782.4,1331.5L1811.8,1340.5L1817.8,1341.0L1836.0,1339.7L1842.2,1344.6L1847.7,1345.1L1859.9,1355.4L1865.9,1359.5L1872.1,1356.8L1878.1,1357.3L1890.3,1355.4L1896.6,1352.2L1902.0,1347.8L1926.5,1341.8L1932.4,1341.8L1938.2,1339.9L1944.1,1344.6L1956.4,1352.7L1962.3,1353.5L1968.0,1350.0L1998.5,1327.7L2003.9,1325.5L2010.2,1321.5L2016.1,1316.0L2028.4,1301.1L2052.3,1266.6L2064.2,1258.2L2075.9,1246.7L2082.7,1252.2L2094.1,1260.3L2100.4,1262.5L2118.6,1268.5L2124.3,1264.9L2130.3,1264.9L2154.2,1268.5L2160.2,1271.7L2184.6,1273.1L2196.8,1278.0L2204.2,1282.9L2209.1,1284.8L2216.4,1291.6L2226.7,1302.4L2234.9,1307.9L2244.4,1312.8L2250.7,1318.8L2256.6,1322.8L2262.1,1324.2L2275.7,1325.0L2279.6,1329.3L2285.8,1348.9L2292.1,1355.2L2304.0,1359.8L2322.0,1361.4L2346.1,1393.2L2352.4,1408.2L2358.4,1421.7L2364.6,1422.6L2382.3,1417.1L2400.5,1412.8L2406.7,1410.1L2430.4,1394.6L2436.6,1391.0L2454.8,1381.8L2460.5,1375.0L2466.5,1359.2L2478.2,1346.2L2501.8,1326.6L2526.3,1279.6L2531.7,1258.7L2537.7,1229.3L2544.0,1221.2L2550.2,1215.2L2556.2,1213.0L2568.4,1209.8L2574.4,1203.8L2592.1,1196.7L2640.4,1198.9L2646.4,1200.8L2664.1,1203.0L2670.3,1201.6L2678.5,1202.2L2724.1,1186.1L2730.1,1193.5L2742.3,1192.1L2748.3,1189.9L2772.2,1192.7L2802.1,1178.5L2808.1,1170.4L2826.6,1162.2L2838.3,1156.8L2844.2,1156.8L2861.9,1160.9L2867.9,1159.0L2874.1,1158.2L2880.1,1179.3L2885.8,1198.9L2891.8,1209.2L2904.0,1219.8L2910.0,1213.9L2952.1,1217.9L2970.1,1221.6L2976.1,1218.9L2993.8,1222.9L2999.7,1222.9L3011.4,1223.5L3024.2,1223.5L3041.8,1218.9L3048.1,1221.6L3054.1,1226.2L3060.3,1210.7L3071.7,1185.7L3078.0,1180.8L3096.2,1172.1L3101.6,1177.6L3113.9,1184.9L3119.6,1186.2L3137.8,1187.6L3143.8,1188.4L3156.0,1193.6L3162.2,1191.7L3185.9,1197.7L3192.1,1200.7L3198.1,1202.6L3203.8,1206.1L3215.8,1212.1L3228.0,1214.8L3233.7,1208.0L3239.7,1209.3L3245.9,1208.0L3252.4,1204.7L3258.2,1208.0L3276.4,1205.3L3281.8,1197.1L3300.0,1188.4L3317.7,1180.8L3323.9,1183.0L3335.6,1178.1" stroke="#AA00FF"/>
</g>
<text x="118.8" y="1630.3" font-family="Liberation Sans, sans-serif" font-size="49.5" fill="#f2f5fa" textLength="102.9" lengthAdjust="spacingAndGlyphs">0.05</text>
<text x="150.3" y="1448.1" font-family="Liberation Sans, sans-serif" font-size="49.5" fill="#f2f5fa" textLength="72.4" lengthAdjust="spacingAndGlyphs">0.1</text>
<text x="118.8" y="1265.8" font-family="Liberation Sans, sans-serif" font-size="49.5" fill="#f2f5fa" textLength="102.9" lengthAdjust="spacingAndGlyphs">0.15</text>
<text x="150.3" y="1083.5" font-family="Liberation Sans, sans-serif" font-size="49.5" fill="#f2f5fa" textLength="72.4" lengthAdjust="spacingAndGlyphs">0.2</text>
<text x="118.8" y="901.3" font-family="Liberation Sans, sans-serif" font-size="49.5" fill="#f2f5fa" textLength="102.9" lengthAdjust="spacingAndGlyphs">0.25</text>
<text x="150.3" y="719.0" font-family="Liberation Sans, sans-serif" font-size="49.5" fill="#f2f5fa" textLength="73.4" lengthAdjust="spacingAndGlyphs">0.3</text>
<text x="118.8" y="536.8" font-family="Liberation Sans, sans-serif" font-size="49.5" fill="#f2f5fa" textLength="102.9" lengthAdjust="spacingAndGlyphs">0.35</text>
<text x="150.3" y="354.5" font-family="Liberation Sans, sans-serif" font-size="49.5" fill="#f2f5fa" textLength="73.4" lengthAdjust="spacingAndGlyphs">0.4</text>
<text x="445.3" y="1668.0" font-family="Liberation Sans, sans-serif" font-size="50" fill="#f2f5fa" textLength="59.9" lengthAdjust="spacingAndGlyphs">Jul</text><text x="522.5" y="1668.0" font-family="Liberation Sans, sans-serif" font-size="50" fill="#f2f5fa" textLength="119.2" lengthAdjust="spacingAndGlyphs">2023</text>
<text x="805.0" y="1668.0" font-family="Liberation Sans, sans-serif" font-size="50" fill="#f2f5fa" textLength="89.5" lengthAdjust="spacingAndGlyphs">Sep</text><text x="910.8" y="1668.0" font-family="Liberation Sans, sans-serif" font-size="50" fill="#f2f5fa" textLength="119.2" lengthAdjust="spacingAndGlyphs">2023</text>
<text x="1168.4" y="1668.0" font-family="Liberation Sans, sans-serif" font-size="50" fill="#f2f5fa" textLength="91.7" lengthAdjust="spacingAndGlyphs">Nov</text><text x="1278.4" y="1668.0" font-family="Liberation Sans, sans-serif" font-size="50" fill="#f2f5fa" textLength="120.2" lengthAdjust="spacingAndGlyphs">2023</text>
<text x="1541.3" y="1668.0" font-family="Liberation Sans, sans-serif" font-size="50" fill="#f2f5fa" textLength="76.0" lengthAdjust="spacingAndGlyphs">Jan</text><text x="1634.5" y="1668.0" font-family="Liberation Sans, sans-serif" font-size="50" fill="#f2f5fa" textLength="120.2" lengthAdjust="spacingAndGlyphs">2024</text>
<text x="1897.0" y="1668.0" font-family="Liberation Sans, sans-serif" font-size="50" fill="#f2f5fa" textLength="89.6" lengthAdjust="spacingAndGlyphs">Mar</text><text x="2002.8" y="1668.0" font-family="Liberation Sans, sans-serif" font-size="50" fill="#f2f5fa" textLength="119.2" lengthAdjust="spacingAndGlyphs">2024</text>
<text x="2258.6" y="1668.0" font-family="Liberation Sans, sans-serif" font-size="50" fill="#f2f5fa" textLength="96.2" lengthAdjust="spacingAndGlyphs">May</text><text x="2373.2" y="1668.0" font-family="Liberation Sans, sans-serif" font-size="50" fill="#f2f5fa" textLength="119.2" lengthAdjust="spacingAndGlyphs">2024</text>
<text x="2641.3" y="1668.0" font-family="Liberation Sans, sans-serif" font-size="50" fill="#f2f5fa" textLength="59.9" lengthAdjust="spacingAndGlyphs">Jul</text><text x="2718.5" y="1668.0" font-family="Liberation Sans, sans-serif" font-size="50" fill="#f2f5fa" textLength="120.2" lengthAdjust="spacingAndGlyphs">2024</text>
<text x="3001.0" y="1668.0" font-family="Liberation Sans, sans-serif" font-size="50" fill="#f2f5fa" textLength="89.5" lengthAdjust="spacingAndGlyphs">Sep</text><text x="3106.8" y="1668.0" font-family="Liberation Sans, sans-serif" font-size="50" fill="#f2f5fa" textLength="119.2" lengthAdjust="spacingAndGlyphs">2024</text>
<text x="1718.0" y="1762.0" font-family="Liberation Sans, sans-serif" font-size="55.5" fill="#f2f5fa" textLength="129.1" lengthAdjust="spacingAndGlyphs">Date</text>
<g transform="translate(50.5,928.8) rotate(-90)"><text x="-207.2" y="0.0" font-family="Liberation Sans, sans-serif" font-size="55.5" fill="#f2f5fa" textLength="303.8" lengthAdjust="spacingAndGlyphs">Percentage</text><text x="114.8" y="0.0" font-family="Liberation Sans, sans-serif" font-size="55.5" fill="#f2f5fa" textLength="91.4" lengthAdjust="spacingAndGlyphs">(%)</text></g>
<rect x="3399.5" y="241.5" width="762" height="555" fill="#111111" stroke="#444444" stroke-width="3"/>
<path d="M3416.5,301.6H3506" stroke="#FF69B4" stroke-width="6" fill="none"/>
<text x="3521.0" y="324.6" font-family="Liberation Sans, sans-serif" font-size="62.5" fill="#ffffff" textLength="208.5" lengthAdjust="spacingAndGlyphs">Coding</text>
<path d="M3416.5,388.6H3506" stroke="#FF6000" stroke-width="6" fill="none"/>
<text x="3521.0" y="411.6" font-family="Liberation Sans, sans-serif" font-size="62.5" fill="#ffffff" textLength="622.8" lengthAdjust="spacingAndGlyphs">Instruction-Following</text>
<path d="M3416.5,475.6H3506" stroke="#FFFF33" stroke-width="6" fill="none"/>
<text x="3522.0" y="498.6" font-family="Liberation Sans, sans-serif" font-size="62.5" fill="#ffffff" textLength="148.1" lengthAdjust="spacingAndGlyphs">Math</text>
<path d="M3416.5,562.6H3506" stroke="#39FF14" stroke-width="6" fill="none"/>
<text x="3522.0" y="585.6" font-family="Liberation Sans, sans-serif" font-size="62.5" fill="#ffffff" textLength="141.6" lengthAdjust="spacingAndGlyphs">Hard</text><text x="3683.7" y="585.6" font-family="Liberation Sans, sans-serif" font-size="62.5" fill="#ffffff" textLength="214.3" lengthAdjust="spacingAndGlyphs">Prompt</text>
<path d="M3416.5,649.6H3506" stroke="#58B8FF" stroke-width="6" fill="none"/>
<text x="3521.0" y="672.6" font-family="Liberation Sans, sans-serif" font-size="62.5" fill="#ffffff" textLength="251.6" lengthAdjust="spacingAndGlyphs">Creative</text><text x="3793.7" y="672.6" font-family="Liberation Sans, sans-serif" font-size="62.5" fill="#ffffff" textLength="211.3" lengthAdjust="spacingAndGlyphs">Writing</text>
<path d="M3416.5,736.6H3506" stroke="#AA00FF" stroke-width="6" fill="none"/>
<text x="3522.0" y="759.6" font-family="Liberation Sans, sans-serif" font-size="62.5" fill="#ffffff" textLength="288.1" lengthAdjust="spacingAndGlyphs">Multi-Turn</text>
</svg>
</body></html>
